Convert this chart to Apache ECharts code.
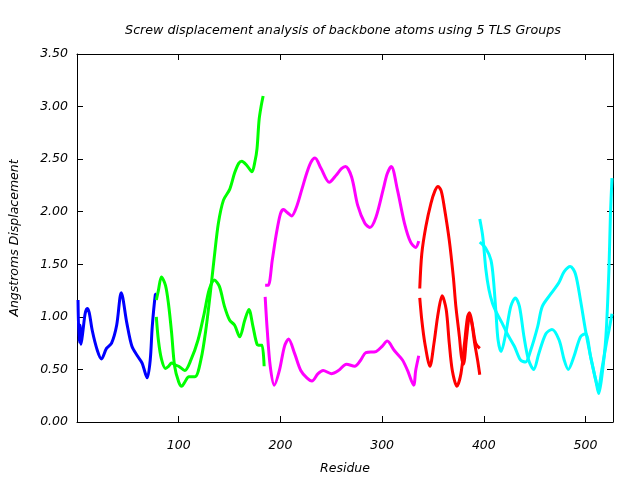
<!DOCTYPE html>
<html><head><meta charset="utf-8">
<script src="https://cdn.jsdelivr.net/npm/echarts@6/dist/echarts.min.js"></script>
<style>html,body{margin:0;padding:0;background:#fff}#c{width:640px;height:480px}</style>
</head><body><div id="c"></div>
<script>
const titleText = 'Screw displacement analysis of backbone atoms using 5 TLS Groups';
const xLabel = 'Residue';
const yLabel = 'Angstroms Displacement';

const blueRes = [1, 2, 3, 4, 6, 8, 10, 12, 15, 20, 24, 29, 34, 39, 43.5, 49, 54, 60, 64, 69, 72, 74, 77, 78];
const blueVal = [1.16, 0.76, 0.92, 0.74, 0.88, 1.03, 1.08, 1.04, 0.87, 0.68, 0.60, 0.70, 0.75, 0.92, 1.23, 0.94, 0.72, 0.62, 0.56, 0.42, 0.59, 0.91, 1.21, 1.22];

const greenARes = [78, 80, 83, 87, 90, 93, 96, 100, 103, 106, 110, 116, 122, 127, 131, 135, 139, 144, 150, 155, 159, 162, 167, 172, 175, 177, 179, 181, 183];
const greenAVal = [1.16, 1.25, 1.38, 1.30, 1.12, 0.85, 0.53, 0.38, 0.34, 0.38, 0.43, 0.43, 0.60, 0.90, 1.22, 1.57, 1.89, 2.11, 2.21, 2.37, 2.46, 2.48, 2.44, 2.38, 2.48, 2.60, 2.87, 3.00, 3.10];
const greenBRes = [78, 80, 83, 87, 90, 93, 97, 100, 106, 112, 119, 125, 130, 135, 140, 145, 150, 155, 160, 165, 169, 173, 177, 180, 182, 184];
const greenBVal = [1.00, 0.78, 0.60, 0.51, 0.53, 0.56, 0.54, 0.53, 0.49, 0.59, 0.78, 1.03, 1.26, 1.35, 1.29, 1.10, 0.97, 0.92, 0.81, 0.97, 1.07, 0.91, 0.74, 0.73, 0.73, 0.53];

const magentaARes = [185, 188, 192, 196, 200, 203, 207, 211, 216, 221, 226, 230, 234, 240, 248, 255, 260, 264, 270, 276, 283, 288, 294, 301, 305, 309, 315, 322, 328, 333, 336];
const magentaAVal = [1.30, 1.30, 1.54, 1.79, 1.98, 2.02, 1.99, 1.96, 2.05, 2.21, 2.37, 2.47, 2.51, 2.41, 2.28, 2.35, 2.41, 2.43, 2.33, 2.06, 1.89, 1.85, 1.95, 2.21, 2.36, 2.43, 2.21, 1.89, 1.71, 1.66, 1.72];
const magentaBRes = [185, 187, 190, 194, 199, 204, 208, 214, 220, 226, 231, 237, 242, 250, 257, 265, 273, 279, 284, 294, 300, 305, 312, 320, 325, 331, 333, 336];
const magentaBVal = [1.19, 0.88, 0.53, 0.35, 0.49, 0.72, 0.79, 0.65, 0.49, 0.42, 0.39, 0.46, 0.49, 0.46, 0.49, 0.55, 0.53, 0.59, 0.66, 0.67, 0.72, 0.77, 0.68, 0.59, 0.49, 0.35, 0.49, 0.63];

const redARes = [337, 339, 343, 348, 352, 355, 358, 361, 366, 370, 372.5, 376, 378, 380, 383, 386, 388, 391, 394, 396];
const redAVal = [1.27, 1.60, 1.86, 2.08, 2.20, 2.24, 2.20, 2.05, 1.73, 1.38, 1.10, 0.81, 0.62, 0.55, 0.80, 1.00, 0.95, 0.75, 0.58, 0.45];
const redBRes = [337, 339, 342, 347, 351, 355, 359, 363, 366, 369, 373.5, 377.5, 381, 384, 386, 389, 392, 396];
const redBVal = [1.18, 0.97, 0.75, 0.53, 0.75, 1.03, 1.20, 1.07, 0.75, 0.49, 0.34, 0.46, 0.75, 1.00, 1.04, 0.91, 0.75, 0.70];

const cyanARes = [396, 399, 402, 405, 408.5, 413, 418, 423, 430, 436, 441, 446, 453, 457.5, 466, 474, 479, 485, 490, 495, 500, 505, 510, 513, 516, 520, 523, 524.5, 526];
const cyanAVal = [1.93, 1.76, 1.45, 1.26, 1.13, 1.03, 0.94, 0.84, 0.72, 0.59, 0.57, 0.68, 0.91, 1.10, 1.22, 1.33, 1.43, 1.48, 1.41, 1.16, 0.87, 0.62, 0.40, 0.27, 0.43, 0.81, 1.45, 1.98, 2.32];
const cyanBRes = [396, 402, 407, 409.5, 412, 414, 417, 421.5, 426.5, 431, 435, 439.5, 444, 449, 454, 461, 467, 474, 479, 483, 488.5, 495, 500, 505, 510, 512.5, 516, 520.5, 523, 526];
const cyanBVal = [1.71, 1.65, 1.54, 1.35, 1.03, 0.78, 0.67, 0.84, 1.10, 1.18, 1.10, 0.81, 0.59, 0.50, 0.65, 0.84, 0.88, 0.78, 0.59, 0.50, 0.62, 0.81, 0.84, 0.62, 0.40, 0.32, 0.50, 0.75, 0.87, 1.03];

const traces = [
  [blueRes, blueVal, '#0000ff'],
  [greenARes, greenAVal, '#00ff00'],
  [greenBRes, greenBVal, '#00ff00'],
  [magentaARes, magentaAVal, '#ff00ff'],
  [magentaBRes, magentaBVal, '#ff00ff'],
  [redARes, redAVal, '#ff0000'],
  [redBRes, redBVal, '#ff0000'],
  [cyanARes, cyanAVal, '#00ffff'],
  [cyanBRes, cyanBVal, '#00ffff']
];

const font = 'DejaVu Sans';
const chart = echarts.init(document.getElementById('c'), null, {renderer: 'canvas'});
const axisCommon = () => ({
  axisLine: {show: true, onZero: false, lineStyle: {color: '#000', width: 1}},
  axisTick: {show: true, inside: true, length: 6, lineStyle: {color: '#000'}},
  splitLine: {show: false}
});
chart.setOption({
  animation: false,
  backgroundColor: '#fff',
  title: {text: titleText, left: 338, textAlign: 'center', top: 19,
    textStyle: {fontFamily: font, fontStyle: 'italic', fontWeight: 'normal', fontSize: 12.7, color: '#000'}},
  grid: {left: 75, right: 27, top: 54, bottom: 58},
  xAxis: [
    Object.assign({type: 'value', min: 0, max: 527, interval: 100, position: 'bottom',
      name: xLabel, nameLocation: 'middle', nameGap: 40,
      nameTextStyle: {fontFamily: font, fontStyle: 'italic', fontSize: 12.5, color: '#000'},
      axisLabel: {fontFamily: font, fontStyle: 'italic', fontSize: 12.5, color: '#000', margin: 17,
        showMinLabel: false, showMaxLabel: false,
        formatter: v => (v === 0 || v % 100 !== 0) ? '' : String(v)}}, axisCommon()),
    Object.assign({type: 'value', min: 0, max: 527, interval: 100, position: 'top',
      axisLabel: {show: false}}, axisCommon())
  ],
  yAxis: [
    Object.assign({type: 'value', min: 0, max: 3.5, interval: 0.5, position: 'left',
      name: yLabel, nameLocation: 'middle', nameGap: 56, nameRotate: 90,
      nameTextStyle: {fontFamily: font, fontStyle: 'italic', fontSize: 12.5, color: '#000'},
      axisLabel: {fontFamily: font, fontStyle: 'italic', fontSize: 12.5, color: '#000', margin: 9,
        formatter: v => v.toFixed(2)}}, axisCommon()),
    Object.assign({type: 'value', min: 0, max: 3.5, interval: 0.5, position: 'right',
      axisLabel: {show: false}}, axisCommon())
  ],
  series: traces.map(t => ({
    type: 'line',
    data: t[0].map((r, i) => [r, t[1][i]]),
    showSymbol: false,
    smooth: 0.3,
    lineStyle: {color: t[2], width: 3},
    itemStyle: {color: t[2]}
  }))
});
</script></body></html>
